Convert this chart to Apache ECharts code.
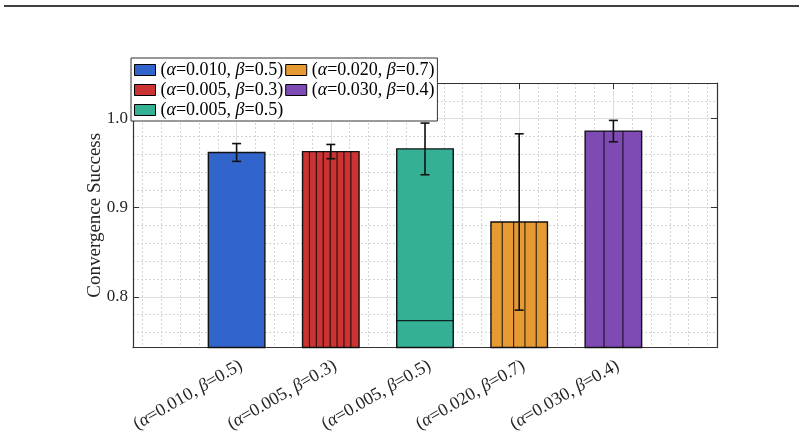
<!DOCTYPE html>
<html>
<head>
<meta charset="utf-8">
<script src="https://cdn.jsdelivr.net/npm/echarts@6/dist/echarts.min.js"></script>
<style>
html, body { margin: 0; padding: 0; background: #fff; }
#main { width: 804px; height: 435px; }
</style>
</head>
<body>
<div id="main"></div>
<script>
// data
var categories = ['(α=0.010, β=0.5)', '(α=0.005, β=0.3)', '(α=0.005, β=0.5)', '(α=0.020, β=0.7)', '(α=0.030, β=0.4)'];
var positions = [1, 2, 3, 4, 5];
var means = [0.962, 0.963, 0.966, 0.884, 0.986];
var errors = [0.010, 0.008, 0.029, 0.099, 0.012];
var yTicks = [0.8, 0.9, 1.0];

var Y_MIN = 0.743, Y_MAX = 1.04;
var X_MIN = -0.1, X_MAX = 6.1;
var FONT = '"Liberation Serif", "DejaVu Serif", serif';

// look of each bar
var colors = ['#3265cc', '#cc3434', '#34b094', '#e59a34', '#7e4bb4'];
var hatches = [null, { dir: 'v', step: 6.9 }, { dir: 'h', fromBottom: 27 }, { dir: 'v', step: 11.33 }, { dir: 'v', step: 18.9 }];

// minor grid positions (dotted lines)
var minorX = [], minorY = [];
for (var i = 0; i <= 30; i++) {
    var vx = Math.round(i * 0.2 * 10) / 10;
    if (positions.indexOf(vx) < 0) minorX.push(vx);
}
for (var j = 0; j <= 15; j++) {
    var vy = Math.round((0.76 + j * 0.02) * 100) / 100;
    if (yTicks.indexOf(vy) < 0) minorY.push(vy);
}

function richText(s) {
    return s.replace(/([αβ])/g, '{i|$1}');
}

function makeRender(k) {
    return function (params, api) {
        var x = api.value(0), y = api.value(1), e = api.value(2);
        var tl = api.coord([x - 0.3, y]);
        var br = api.coord([x + 0.3, Y_MIN]);
        var w = br[0] - tl[0], h = br[1] - tl[1];
        var kids = [{
            type: 'rect',
            shape: { x: tl[0], y: tl[1], width: w, height: h },
            style: { fill: colors[k], stroke: '#111', lineWidth: 1.4 }
        }];
        var hat = hatches[k];
        if (hat && hat.dir === 'v') {
            for (var px = tl[0] + hat.step; px < br[0] - 2; px += hat.step) {
                kids.push({ type: 'line', shape: { x1: px, y1: tl[1], x2: px, y2: br[1] },
                    style: { stroke: 'rgba(0,0,0,0.75)', lineWidth: 1.2 } });
            }
        } else if (hat && hat.dir === 'h') {
            var py = br[1] - hat.fromBottom;
            kids.push({ type: 'line', shape: { x1: tl[0], y1: py, x2: br[0], y2: py },
                style: { stroke: 'rgba(0,0,0,0.8)', lineWidth: 1.3 } });
        }
        var top = api.coord([x, y + e]);
        var bot = api.coord([x, y - e]);
        var cap = 4.5;
        var eb = { stroke: '#111', lineWidth: 1.6 };
        kids.push({ type: 'line', shape: { x1: top[0], y1: top[1], x2: bot[0], y2: bot[1] }, style: eb });
        kids.push({ type: 'line', shape: { x1: top[0] - cap, y1: top[1], x2: top[0] + cap, y2: top[1] }, style: eb });
        kids.push({ type: 'line', shape: { x1: bot[0] - cap, y1: bot[1], x2: bot[0] + cap, y2: bot[1] }, style: eb });
        return { type: 'group', children: kids };
    };
}

var series = categories.map(function (name, k) {
    return {
        name: name,
        type: 'custom',
        xAxisIndex: 0,
        yAxisIndex: 0,
        itemStyle: { color: colors[k] },
        renderItem: makeRender(k),
        data: [[positions[k], means[k], errors[k]]],
        z: 2
    };
});

var axisLineStyle = { color: '#333', width: 1.2 };
var majorGrid = { show: true, lineStyle: { color: '#dedede', width: 1 } };
var minorGrid = { show: true, lineStyle: { color: '#d4d4d4', width: 1, type: [2, 2] } };

var chart = echarts.init(document.getElementById('main'));
chart.setOption({
    animation: false,
    grid: { left: 133, right: 87, top: 83, bottom: 87 },
    graphic: [{
        type: 'line',
        shape: { x1: 4, y1: 6, x2: 799, y2: 6 },
        style: { stroke: '#000', lineWidth: 1.5 }
    }],
    legend: {
        orient: 'vertical',
        left: 131,
        top: 58,
        height: 62,
        padding: [3, 3, 2, 3],
        itemGap: 2,
        itemWidth: 21,
        itemHeight: 11,
        backgroundColor: '#fff',
        borderColor: '#333',
        borderWidth: 1,
        icon: 'rect',
        itemStyle: { borderColor: '#000', borderWidth: 1 },
        data: categories,
        formatter: richText,
        textStyle: {
            fontFamily: FONT, fontSize: 18, color: '#000', lineHeight: 18,
            rich: { i: { fontFamily: FONT, fontSize: 18, fontStyle: 'italic', color: '#000', lineHeight: 18 } }
        }
    },
    xAxis: [{
        type: 'value', min: X_MIN, max: X_MAX, position: 'bottom',
        axisLine: { show: true, onZero: false, lineStyle: axisLineStyle },
        axisTick: { show: true, inside: true, length: 6, customValues: positions, lineStyle: { color: '#333' } },
        axisLabel: {
            customValues: positions, rotate: 30, margin: 9, verticalAlign: 'top',
            fontFamily: FONT, fontSize: 18, color: '#262626',
            formatter: function (v) { return richText(categories[Math.round(v) - 1]); },
            rich: { i: { fontFamily: FONT, fontSize: 18, fontStyle: 'italic', color: '#262626' } }
        },
        splitLine: majorGrid
    }, {
        type: 'value', min: X_MIN, max: X_MAX, position: 'top',
        axisLine: { show: true, onZero: false, lineStyle: axisLineStyle },
        axisTick: { show: true, inside: true, length: 6, customValues: positions, lineStyle: { color: '#333' } },
        axisLabel: { show: false },
        splitLine: { show: false }
    }, {
        type: 'value', min: X_MIN, max: X_MAX, position: 'top',
        axisLine: { show: false },
        axisTick: { show: false, customValues: minorX },
        axisLabel: { show: false },
        splitLine: minorGrid
    }],
    yAxis: [{
        type: 'value', min: Y_MIN, max: Y_MAX, position: 'left',
        name: 'Convergence Success', nameLocation: 'middle', nameGap: 28, nameMoveOverlap: false,
        nameTextStyle: { fontFamily: FONT, fontSize: 19, color: '#262626' },
        axisLine: { show: true, onZero: false, lineStyle: axisLineStyle },
        axisTick: { show: true, inside: true, length: 6, customValues: yTicks, lineStyle: { color: '#333' } },
        axisLabel: {
            customValues: yTicks, margin: 5,
            fontFamily: FONT, fontSize: 17, color: '#262626',
            formatter: function (v) { return v.toFixed(1); }
        },
        splitLine: majorGrid
    }, {
        type: 'value', min: Y_MIN, max: Y_MAX, position: 'right',
        axisLine: { show: true, onZero: false, lineStyle: axisLineStyle },
        axisTick: { show: true, inside: true, length: 6, customValues: yTicks, lineStyle: { color: '#333' } },
        axisLabel: { show: false },
        splitLine: { show: false }
    }, {
        type: 'value', min: Y_MIN, max: Y_MAX, position: 'right',
        axisLine: { show: false },
        axisTick: { show: false, customValues: minorY },
        axisLabel: { show: false },
        splitLine: minorGrid
    }],
    series: series
});
</script>
</body>
</html>
